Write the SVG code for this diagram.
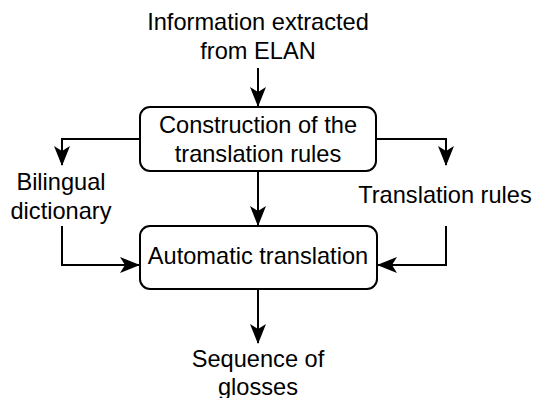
<svg xmlns="http://www.w3.org/2000/svg" width="534" height="398" viewBox="0 0 534 398">
<style>
text{font-family:"Liberation Sans",Arial,sans-serif;font-size:23.6px;fill:#000;text-anchor:middle}
.box{fill:#fff;stroke:#000;stroke-width:2}
.c{fill:none;stroke:#000;stroke-width:2}
</style>
<defs>
<marker id="ah" viewBox="0 0 20 16" refX="19" refY="8" markerWidth="20" markerHeight="16" markerUnits="userSpaceOnUse" orient="auto">
<path d="M0,0 L20,8 L0,16 L5,8 z" fill="#000"/>
</marker>
</defs>
<g id="connectors">
<path class="c" d="M258,68 V106" marker-end="url(#ah)"/>
<path class="c" d="M140,139 H62 V165" marker-end="url(#ah)"/>
<path class="c" d="M376,139 H446 V165" marker-end="url(#ah)"/>
<path class="c" d="M258,171 V225" marker-end="url(#ah)"/>
<path class="c" d="M62,226 V265 H139" marker-end="url(#ah)"/>
<path class="c" d="M446,226 V265 H378" marker-end="url(#ah)"/>
<path class="c" d="M258,289 V343" marker-end="url(#ah)"/>
</g>
<g id="info"><text x="258" y="30">Information extracted</text><text x="258" y="59">from ELAN</text></g>
<g id="construction"><rect class="box" x="140" y="107" width="236" height="64" rx="10"/><text x="258" y="133">Construction of the</text><text x="258" y="162">translation rules</text></g>
<g id="dictionary"><text x="61" y="190">Bilingual</text><text x="61" y="219">dictionary</text></g>
<g id="rules"><text x="445" y="203">Translation rules</text></g>
<g id="automatic"><rect class="box" x="140" y="226" width="237" height="63" rx="10"/><text x="258" y="264">Automatic translation</text></g>
<g id="sequence"><text x="258" y="367">Sequence of</text><text x="258" y="395">glosses</text></g>
</svg>
